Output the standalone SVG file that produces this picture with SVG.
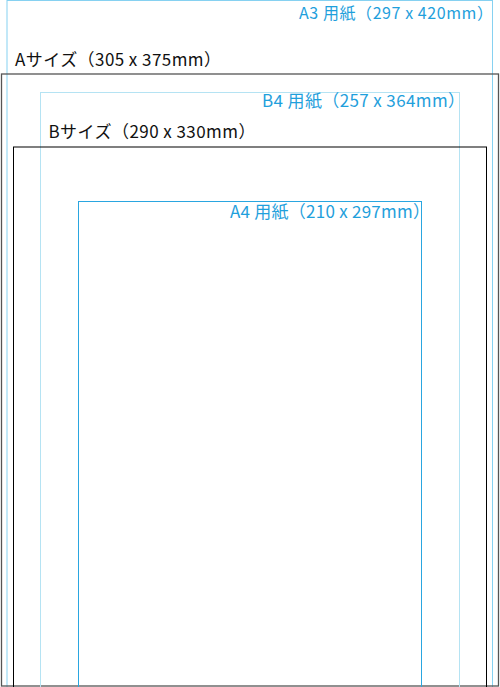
<svg xmlns="http://www.w3.org/2000/svg" width="500" height="687" viewBox="0 0 500 687">
<style>
  .lbl { font-family: "Noto Sans CJK JP", "Noto Sans", sans-serif; font-size: 17px; }
  .blue { fill: #1fa0dc; }
  .black { fill: #111; }
  rect { fill: none; }
</style>
<rect width="500" height="687" fill="#fff" style="fill:#fff"/>
<g id="a3">
  <rect x="7" y="0.5" width="485.5" height="700" stroke="#86d1f1" stroke-width="1"/>
  <text class="lbl blue" x="299" y="19" style="font-size:16px" textLength="194" lengthAdjust="spacing">A3 用紙（297 x 420mm）</text>
</g>
<g id="a-size">
  <rect x="1.5" y="74" width="497" height="612" stroke="#555" stroke-width="1.3"/>
  <text class="lbl black" x="15" y="66" textLength="206" lengthAdjust="spacing">Aサイズ（305 x 375mm）</text>
</g>
<g id="b4">
  <rect x="40.5" y="92.5" width="419" height="620" stroke="#b5e3f3" stroke-width="1"/>
  <text class="lbl blue" x="262" y="106.8" textLength="203" lengthAdjust="spacing">B4 用紙（257 x 364mm）</text>
</g>
<g id="b-size">
  <rect x="13.5" y="147" width="473" height="560" stroke="#000" stroke-width="1"/>
  <text class="lbl black" x="48.5" y="137.8" textLength="207" lengthAdjust="spacing">Bサイズ（290 x 330mm）</text>
</g>
<g id="a4">
  <rect x="78.5" y="201.5" width="343" height="500" stroke="#2aa6e0" stroke-width="1"/>
  <text class="lbl blue" x="230" y="218.3" textLength="200" lengthAdjust="spacing">A4 用紙（210 x 297mm）</text>
</g>
<g id="connectors"></g>
</svg>
